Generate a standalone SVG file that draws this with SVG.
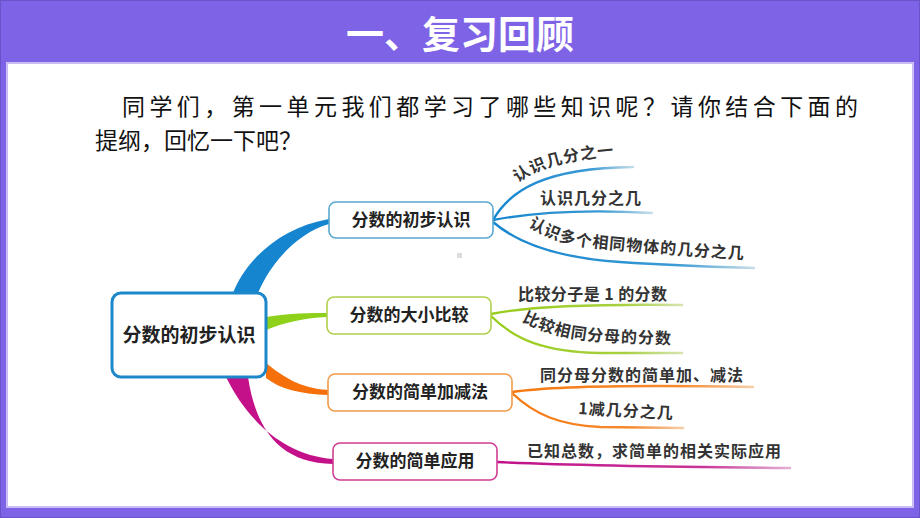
<svg xmlns="http://www.w3.org/2000/svg" width="920" height="518" viewBox="0 0 920 518">
<style>
.title{font-family:"Noto Sans CJK SC","Liberation Sans",sans-serif;font-size:38px;font-weight:bold;fill:#fff;text-anchor:middle}
.body{font-family:"Noto Sans CJK SC","Liberation Sans",sans-serif;font-size:23px;fill:#111}
.box{fill:#fff;stroke-width:1.6}
.root{fill:#fff;stroke:#1c87c9;stroke-width:3}
.ntxt{font-family:"Noto Sans CJK SC","Liberation Sans",sans-serif;font-size:17px;font-weight:bold;fill:#222;text-anchor:middle}
.rtxt{font-family:"Noto Sans CJK SC","Liberation Sans",sans-serif;font-size:19px;font-weight:bold;fill:#222;text-anchor:middle}
.sub{font-family:"Noto Sans CJK SC","Liberation Sans",sans-serif;font-size:16px;font-weight:bold;fill:#333;letter-spacing:1px}
.ln{fill:none;stroke-width:2.4;stroke-linecap:round}
</style>
<defs>
<linearGradient id="gB" x1="0" y1="0" x2="1" y2="0"><stop offset="0" stop-color="#1585cf"/><stop offset="0.7" stop-color="#3a9ad4"/><stop offset="1" stop-color="#c6dde8"/></linearGradient>
<linearGradient id="gG" x1="0" y1="0" x2="1" y2="0"><stop offset="0" stop-color="#97cc1a"/><stop offset="0.7" stop-color="#a8d040"/><stop offset="1" stop-color="#d6e4b0"/></linearGradient>
<linearGradient id="gO" x1="0" y1="0" x2="1" y2="0"><stop offset="0" stop-color="#f5780f"/><stop offset="0.7" stop-color="#f58a30"/><stop offset="1" stop-color="#f6cda8"/></linearGradient>
<linearGradient id="gM" x1="0" y1="0" x2="1" y2="0"><stop offset="0" stop-color="#c0108a"/><stop offset="0.7" stop-color="#c83498"/><stop offset="1" stop-color="#e2b0d4"/></linearGradient>
<path id="p1" d="M518,183 Q548,158 640,154"/>
<path id="p3" d="M528,226 C548,239 570,246 600,248 C640,252 700,257 760,260"/>
<path id="p5" d="M522,321 C544,333 570,340 610,342 L690,345"/>
<path id="p8" d="M578,414 L690,420"/>
</defs>

<rect x="0" y="0" width="920" height="518" fill="#7f63e6"/>
<rect x="0.5" y="0.5" width="919" height="517" fill="none" stroke="#6a52c8" stroke-width="1"/>
<rect x="6" y="62" width="908" height="446" fill="#c9bdf3"/>
<rect x="8" y="64" width="904" height="442" fill="#fff"/>
<text class="title" x="460" y="48">一、复习回顾</text>

<text class="body" x="122" y="115" textLength="736" lengthAdjust="spacing">同学们，第一单元我们都学习了哪些知识呢？请你结合下面的</text>
<text class="body" x="95" y="149">提纲，回忆一下吧？</text>

<rect x="457" y="253" width="5" height="5" fill="#dcdcdc"/>

<g id="connectors">
  <path d="M233,293 C245,262 278,228 329,219 L329,224 C300,232 272,260 258,293 Z" fill="#1585cf"/>
  <path d="M266,317 C290,313 310,313 327,313 L327,317 C305,318 285,322 266,330 Z" fill="#8fd11a"/>
  <path d="M266,363 C285,378 300,388 328,390 L328,395 C300,394 280,389 266,378 Z" fill="#f5700a"/>
  <path d="M226,377 C248,422 285,455 333,459 L333,464 C280,463 256,430 248,377 Z" fill="#c4118a"/>

  <path class="ln" d="M493,220 C510,190 545,168 633,167" stroke="url(#gB)"/>
  <path class="ln" d="M493,220 C540,211 600,210 652,213" stroke="url(#gB)"/>
  <path class="ln" d="M493,222 C520,245 560,258 620,262 C680,266 720,267 754,268" stroke="url(#gB)"/>

  <path class="ln" d="M491,314 C530,306 600,304 682,305" stroke="url(#gG)"/>
  <path class="ln" d="M491,316 C515,340 545,352 600,353 L682,353" stroke="url(#gG)"/>

  <path class="ln" d="M512,392 C560,385 650,385 753,387" stroke="url(#gO)"/>
  <path class="ln" d="M512,393 C535,415 560,425 600,427 L683,428" stroke="url(#gO)"/>

  <path class="ln" d="M497,462 C560,465 680,467 790,468" stroke="url(#gM)"/>
</g>

<g id="root">
  <rect class="root" x="112" y="293" width="154" height="84" rx="9"/>
  <text class="rtxt" x="189" y="342">分数的初步认识</text>
</g>

<g id="n1">
  <rect class="box" x="329" y="202" width="164" height="36" rx="7" stroke="#58a8d0"/>
  <text class="ntxt" x="411" y="226">分数的初步认识</text>
</g>
<g id="n2">
  <rect class="box" x="327" y="297" width="164" height="37" rx="7" stroke="#afd04c"/>
  <text class="ntxt" x="409" y="321">分数的大小比较</text>
</g>
<g id="n3">
  <rect class="box" x="328" y="374" width="184" height="37" rx="7" stroke="#f29a4c"/>
  <text class="ntxt" x="420" y="398">分数的简单加减法</text>
</g>
<g id="n4">
  <rect class="box" x="333" y="443" width="164" height="37" rx="7" stroke="#cf3e93"/>
  <text class="ntxt" x="415" y="467">分数的简单应用</text>
</g>

<g id="leaves">
  <text class="sub"><textPath href="#p1">认识几分之一</textPath></text>
  <text class="sub" x="540" y="204">认识几分之几</text>
  <text class="sub"><textPath href="#p3">认识多个相同物体的几分之几</textPath></text>
  <text class="sub" x="518" y="300" textLength="150" lengthAdjust="spacing">比较分子是 1 的分数</text>
  <text class="sub"><textPath href="#p5">比较相同分母的分数</textPath></text>
  <text class="sub" x="540" y="381">同分母分数的简单加、减法</text>
  <text class="sub"><textPath href="#p8">1减几分之几</textPath></text>
  <text class="sub" x="527" y="457">已知总数，求简单的相关实际应用</text>
</g>
</svg>
